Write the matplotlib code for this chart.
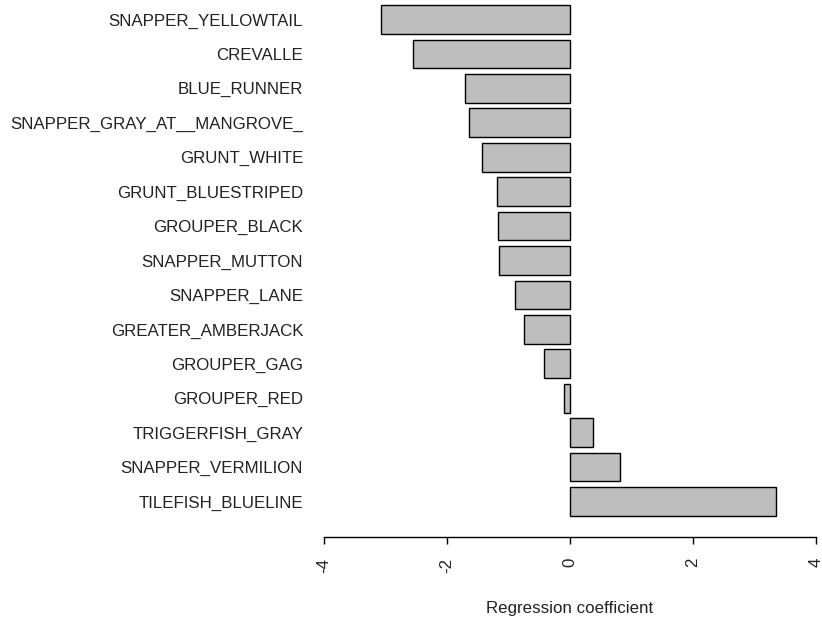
import matplotlib
matplotlib.use('Agg')
import matplotlib.pyplot as plt

plt.rcParams['font.family'] = ['Liberation Sans', 'DejaVu Sans']

# species (top to bottom) and their regression coefficients
species = ['SNAPPER_YELLOWTAIL', 'CREVALLE', 'BLUE_RUNNER', 'SNAPPER_GRAY_AT__MANGROVE_',
           'GRUNT_WHITE', 'GRUNT_BLUESTRIPED', 'GROUPER_BLACK', 'SNAPPER_MUTTON',
           'SNAPPER_LANE', 'GREATER_AMBERJACK', 'GROUPER_GAG', 'GROUPER_RED',
           'TRIGGERFISH_GRAY', 'SNAPPER_VERMILION', 'TILEFISH_BLUELINE']
coef = [-3.07, -2.55, -1.70, -1.65, -1.43, -1.18, -1.17, -1.15,
        -0.89, -0.75, -0.42, -0.10, 0.37, 0.82, 3.35]
xticks = [-4, -2, 0, 2, 4]

W, H = 822, 623
fig = plt.figure(figsize=(W / 100, H / 100), dpi=100)
ax = fig.add_axes([324 / W, 1 - 537 / H, (816 - 324) / W, 537 / H])

pos = list(range(len(species)))
ax.barh(pos, coef, height=1 / 1.2, color='#bebebe', edgecolor='black', linewidth=1)

ax.set_xlim(-4, 4)
ax.set_ylim(15.03, -0.566)

ax.set_yticks(pos)
ax.set_yticklabels(species, fontsize=12.2, color='#222222')
ax.tick_params(axis='y', length=0, pad=15)

ax.set_xticks(xticks)
ax.set_xticklabels([str(t) for t in xticks], rotation=90, fontsize=12.2, color='#222222')
ax.tick_params(axis='x', length=5, width=1, pad=10)

for s in ['top', 'right', 'left']:
    ax.spines[s].set_visible(False)
ax.spines['bottom'].set_bounds(-4, 4)
ax.spines['bottom'].set_linewidth(1)

fig.text(570 / W, 1 - 609 / H, 'Regression coefficient', ha='center', va='center',
         fontsize=12.2, color='#222222')

fig.savefig('out.png', dpi=100)
